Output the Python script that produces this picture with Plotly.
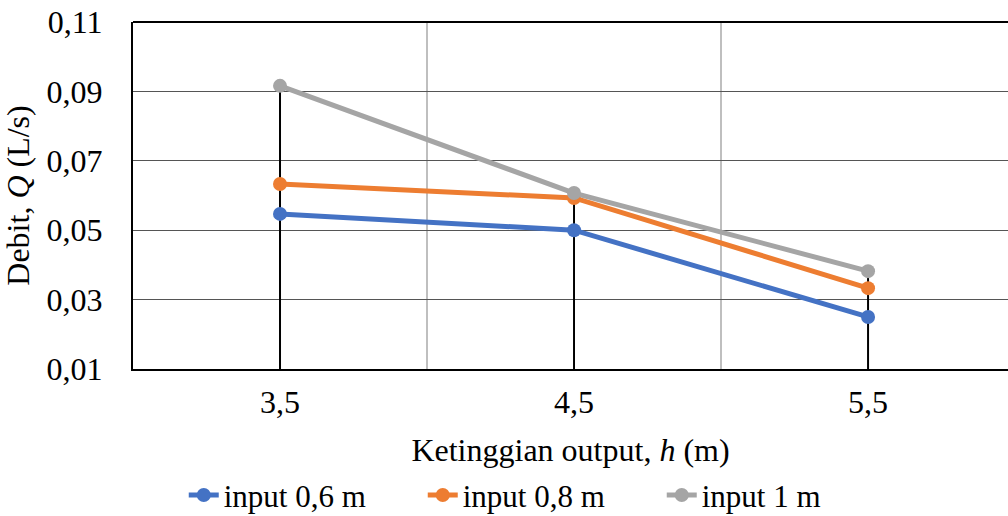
import plotly.graph_objects as go

categories = ["3,5", "4,5", "5,5"]
series_names = ["input 0,6 m", "input 0,8 m", "input 1 m"]
q_06 = [0.0547, 0.0500, 0.0250]
q_08 = [0.0633, 0.0593, 0.0333]
q_10 = [0.0916, 0.0607, 0.0382]
colors = ["#4472C4", "#ED7D31", "#A5A5A5"]
y_ticks = [0.01, 0.03, 0.05, 0.07, 0.09, 0.11]

FONT = "Liberation Serif"
FS = 32
xpos = list(range(len(categories)))
all_series = [q_06, q_08, q_10]

fig = go.Figure()

# drop lines from the highest point down to the axis
dx, dy = [], []
for i in xpos:
    top = max(s[i] for s in all_series)
    dx += [i, i, None]
    dy += [top, y_ticks[0], None]
fig.add_trace(go.Scatter(x=dx, y=dy, mode="lines", line=dict(color="black", width=2),
                         showlegend=False, hoverinfo="skip"))

for name, vals, col in zip(series_names, all_series, colors):
    fig.add_trace(go.Scatter(x=xpos, y=vals, name=name, mode="lines+markers",
                             line=dict(color=col, width=5),
                             marker=dict(color=col, size=14)))

fig.update_layout(
    width=1008, height=516,
    margin=dict(l=133, r=0, t=22, b=147, autoexpand=False),
    paper_bgcolor="white", plot_bgcolor="white",
    separators=",.",
    font=dict(family=FONT, size=FS, color="black"),
    showlegend=True,
    legend=dict(orientation="h", x=0.058, xanchor="left", y=0.04, yanchor="middle",
                yref="container", font=dict(size=31), entrywidth=194,
                traceorder="normal", tracegroupgap=0),
)

fig.update_xaxes(
    range=[-0.5, 2.476], tickvals=xpos, ticktext=categories, automargin=False,
    showgrid=False, zeroline=False, showline=True, linecolor="black", linewidth=2,
    ticks="", ticklabelstandoff=4,
    minor=dict(tickvals=[0.5, 1.5], showgrid=True, gridcolor="#BFBFBF", gridwidth=1.5),
    title=dict(text="Ketinggian output, <i>h</i> (m)", font=dict(size=FS), standoff=25),
)
fig.update_yaxes(
    range=[0.01, 0.11], tickvals=y_ticks, tickformat=".2f", automargin=False,
    showgrid=True, gridcolor="#555555", gridwidth=1.2, zeroline=False,
    showline=True, linecolor="black", linewidth=2, mirror=False, ticks="",
    ticklabelstandoff=22,
    title=dict(text="Debit, <i>Q</i> (L/s)", font=dict(size=FS), standoff=8),
)
# top border of plot area
fig.add_shape(type="line", xref="paper", yref="paper", x0=0, x1=1, y0=1, y1=1,
              line=dict(color="black", width=2))

fig.write_html("out.html")
